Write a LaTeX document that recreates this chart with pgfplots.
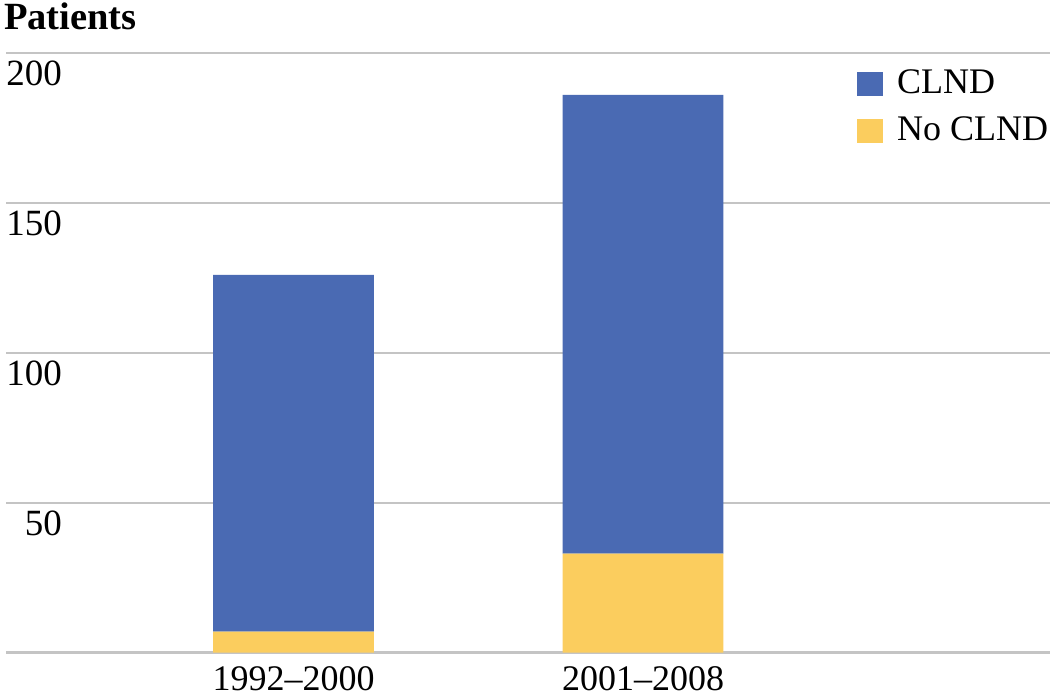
\documentclass[border=0pt]{standalone}
\usepackage{fontspec}
\setmainfont{Liberation Serif}
\usepackage{pgfplots}
\pgfplotsset{compat=1.18}
\definecolor{clndblue}{HTML}{4A6AB3}
\definecolor{noyellow}{HTML}{FBCD5E}
\definecolor{gridgray}{HTML}{C4C4C4}
\begin{document}
\begin{tikzpicture}
\fontsize{36}{43}\selectfont
\begin{axis}[
  scale only axis,
  width=1044pt, height=599.5pt,
  xmin=-0.8226, xmax=2.1645,
  ymin=0, ymax=200,
  ybar stacked,
  bar width=0.46,
  xtick={0,1},
  xticklabels={1992--2000,2001--2008},
  ytick={0,50,100,150,200},
  yticklabels={,50,100,150,200},
  major tick length=0pt,
  axis line style={draw=none},
  ymajorgrids,
  grid style={gridgray, line width=2pt},
  yticklabel style={anchor=base east, inner sep=0pt, xshift=56pt, yshift=-33pt, font=\fontsize{37}{44}\selectfont},
  xticklabel style={anchor=base, inner sep=0pt, yshift=-37.5pt, font=\fontsize{36}{43}\selectfont},
  /pgf/number format/assume math mode=true,
  clip=false,
  reverse legend,
  legend style={at={(rel axis cs:0.815,0.976)}, anchor=north west, draw=none, fill=none,
    inner sep=0pt, row sep=14pt, column sep=12pt, font=\fontsize{36}{43}\selectfont,
    cells={anchor=west}},
  legend image code/.code={\fill[#1, draw=none] (0pt,-12pt) rectangle (26pt,12pt);},
]
\addplot[fill=noyellow, draw=none] coordinates {(0,7) (1,33)};
\addlegendentry{No CLND}
\addplot[fill=clndblue, draw=none] coordinates {(0,119) (1,153)};
\addlegendentry{CLND}
\node[anchor=base west, inner sep=0pt, font=\bfseries\fontsize{38.5}{46}\selectfont] at ([xshift=-2pt,yshift=23.5pt]rel axis cs:0,1) {Patients};
\coordinate (bl) at ([xshift=-6pt,yshift=-43.5pt]rel axis cs:0,0);
\coordinate (tr) at ([yshift=53pt]rel axis cs:1,1);
\end{axis}
\pgfresetboundingbox
\useasboundingbox (bl) rectangle (tr);
\end{tikzpicture}
\end{document}
